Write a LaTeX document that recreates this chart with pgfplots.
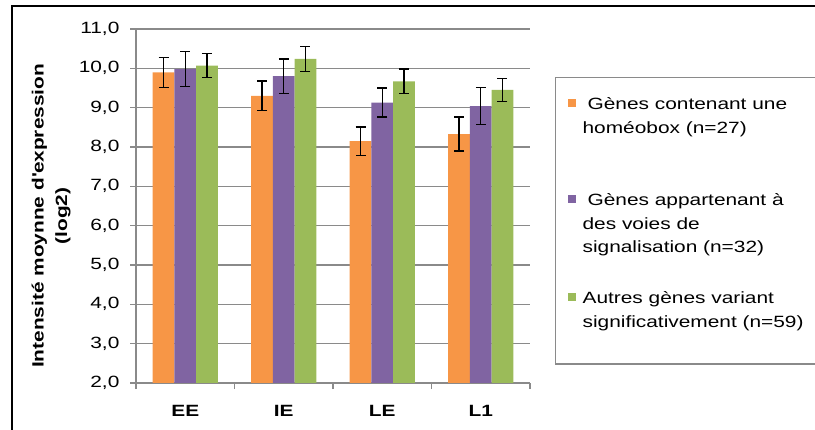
\documentclass[border=0pt]{standalone}
\usepackage{pgfplots}
\pgfplotsset{compat=1.18}
\usepackage{pgfplotstable}
\usepackage{fontspec}
\setmainfont{Liberation Sans}[FakeStretch=1.28]

\definecolor{orangeS}{HTML}{F79646}
\definecolor{purpleS}{HTML}{8064A2}
\definecolor{greenS}{HTML}{9BBB59}
\definecolor{gridgray}{HTML}{8A8A8A}

\pgfplotstableread{
x y e
0 9.90 0.38
1 9.30 0.38
2 8.15 0.36
3 8.33 0.43
}\orangeT
\pgfplotstableread{
x y e
0 9.98 0.44
1 9.80 0.44
2 9.13 0.37
3 9.04 0.47
}\purpleT
\pgfplotstableread{
x y e
0 10.07 0.31
1 10.24 0.32
2 9.67 0.31
3 9.45 0.30
}\greenT

\begin{document}
\fontsize{16.3bp}{23.5bp}\selectfont
\begin{tikzpicture}
\clip (0,0) rectangle (815bp,430bp);
\draw[line width=2bp, black] (12bp,-5bp) -- (12bp,424bp) -- (830bp,424bp);
\begin{axis}[
  at={(136bp,47bp)}, anchor=south west,
  scale only axis, width=394bp, height=354bp,
  ymin=2, ymax=11, ytick={2,...,11},
  xmin=-0.5, xmax=3.5,
  axis lines*=left,
  ybar=0pt, bar width=21.7bp,
  xtick={-0.5,0.5,1.5,2.5,3.5}, xticklabels={},
  extra x ticks={0,1,2,3},
  extra x tick labels={EE,IE,LE,L1},
  extra x tick style={major tick length=0pt, grid=none, xticklabel style={font=\bfseries, yshift=-17bp}},
  tick align=outside, major tick length=6bp,
  ymajorgrids, xmajorgrids=false,
  grid style={line width=1.2bp, gridgray},
  axis line style={line width=1.2bp, gridgray},
  tick style={line width=1.2bp, gridgray},
  /pgf/number format/assume math mode=true,
  yticklabel style={xshift=-5bp, /pgf/number format/fixed, /pgf/number format/fixed zerofill, /pgf/number format/precision=1, /pgf/number format/use comma},
  ylabel={Intensité moynne d\textquotesingle expression\\(log2)},
  ylabel style={at={(axis description cs:-0.2157,0.472)}, anchor=center, align=center, font=\bfseries},
  legend style={at={(axis description cs:1.0635,0.8644)}, anchor=north west,
    draw=gridgray, line width=1.2bp, fill=white,
    inner xsep=12bp, inner ysep=15.85bp, row sep=0pt, column sep=7bp,
    nodes={inner sep=0pt, text depth=, anchor=base west}, cells={anchor=base west}},
  legend image code/.code={\fill[#1, draw=none] (0bp,3bp) rectangle (8bp,11bp);},
  error bars/error bar style={line width=1.3bp, black},
  error bars/error mark options={line width=1.3bp, mark size=5bp, black, rotate=90},
]
\addplot[fill=orangeS, draw=none, error bars/.cd, y dir=both, y explicit] table[x=x, y=y, y error=e]{\orangeT};
\addlegendentry{\parbox[t][96bp][t]{240bp}{\strut\hspace*{5bp}Gènes contenant une\newline homéobox (n=27)}}
\addplot[fill=purpleS, draw=none, error bars/.cd, y dir=both, y explicit] table[x=x, y=y, y error=e]{\purpleT};
\addlegendentry{\parbox[t][98bp][t]{240bp}{\strut\hspace*{5bp}Gènes appartenant à\newline des voies de\newline signalisation (n=32)}}
\addplot[fill=greenS, draw=none, error bars/.cd, y dir=both, y explicit] table[x=x, y=y, y error=e]{\greenT};
\addlegendentry{\parbox[t][60.6bp][t]{240bp}{\strut Autres gènes variant\newline significativement (n=59)}}
\end{axis}
\end{tikzpicture}
\end{document}
